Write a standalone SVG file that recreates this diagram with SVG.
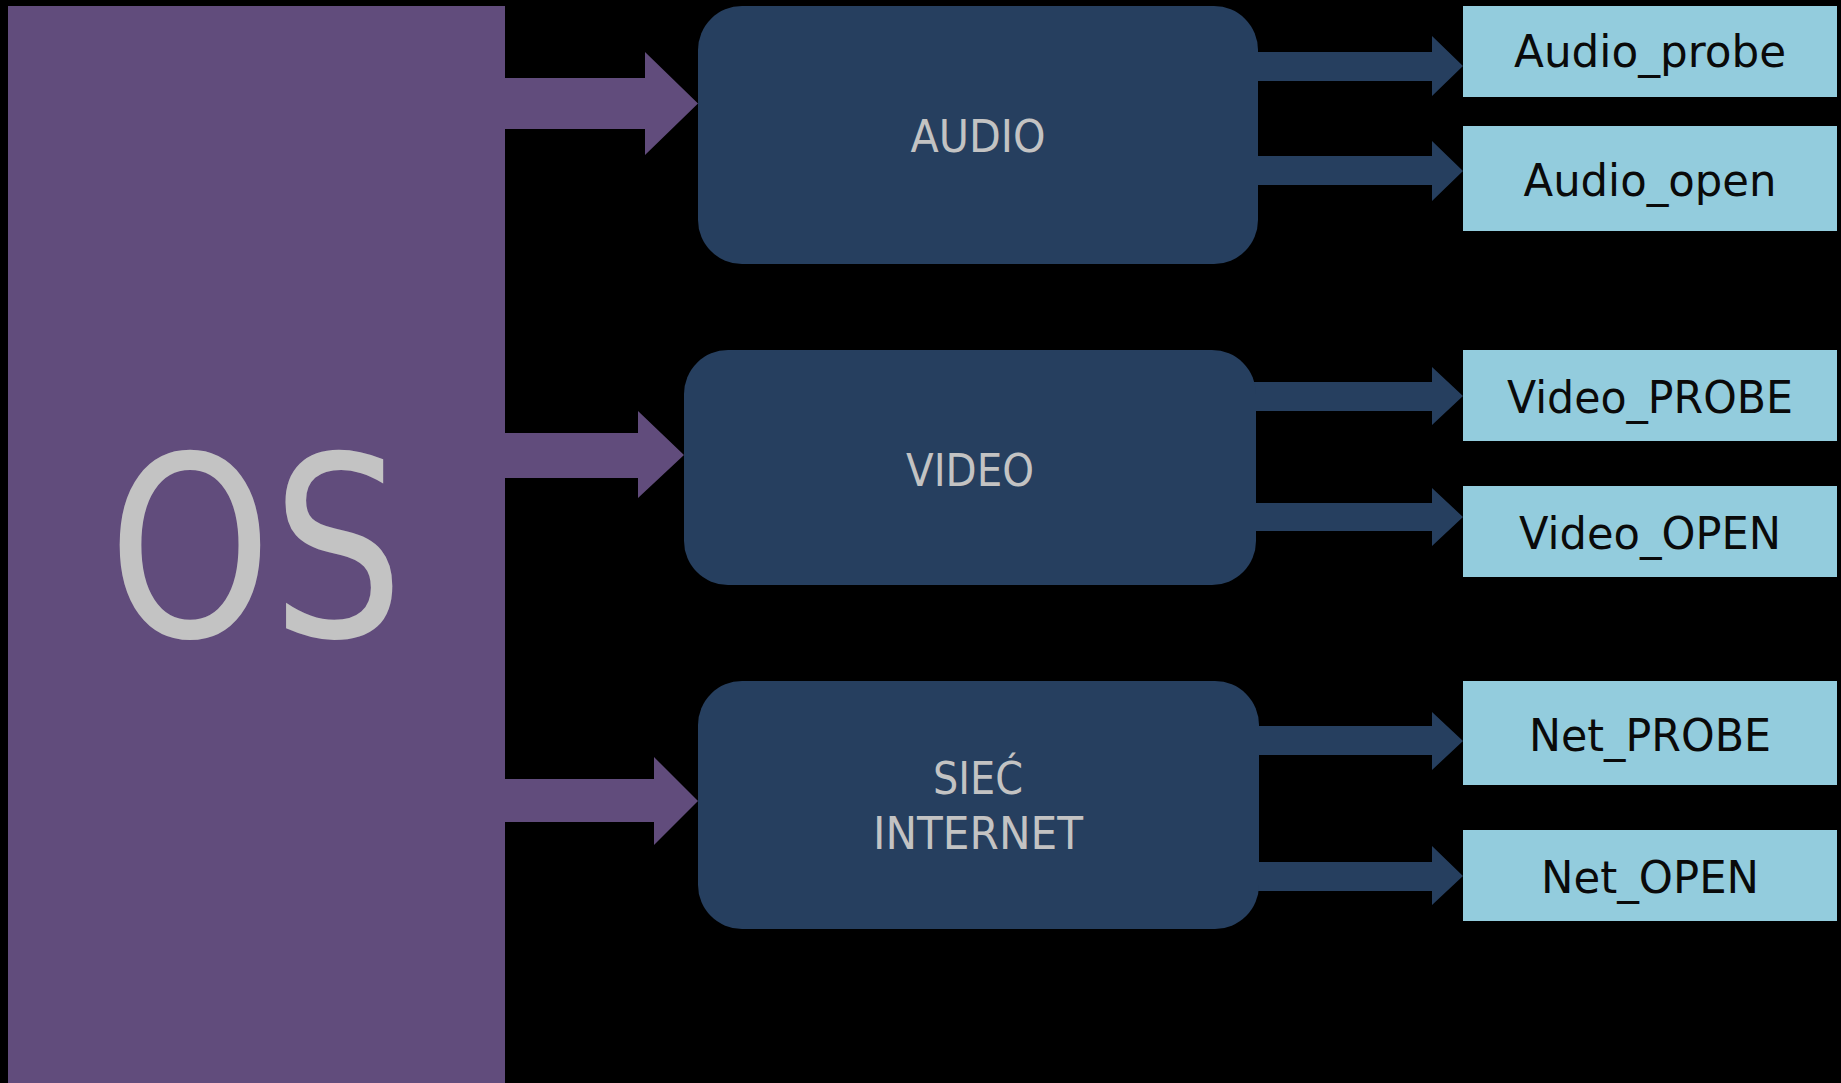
<svg xmlns="http://www.w3.org/2000/svg" width="1841" height="1083" viewBox="0 0 1841 1083">
<style>
.bg{fill:#000}
.os{fill:#614C7C}
.cat{fill:#263F5F}
.leaf{fill:#93CCDD}
.pa{fill:#614C7C}
.na{fill:#263F5F}
.lbl{font-family:"DejaVu Sans","Liberation Sans",sans-serif;font-size:45px;text-anchor:middle}
.light{fill:#C3C3C3}
.dark{fill:#0A0A0A}
.big{font-family:"DejaVu Sans","Liberation Sans",sans-serif;font-size:252px;text-anchor:middle;fill:#C3C3C3}
</style>
<rect class="bg" x="0" y="0" width="1841" height="1083"/>
<g id="connectors">
<polygon class="pa" points="500,78 645,78 645,52 698,103.5 645,155 645,129 500,129"/>
<polygon class="pa" points="500,433 638,433 638,411 684,455 638,498 638,478 500,478"/>
<polygon class="pa" points="500,779 654,779 654,757 698,801 654,845 654,822 500,822"/>
<polygon class="na" points="1250,52 1432,52 1432,36 1463,66 1432,96 1432,81 1250,81"/>
<polygon class="na" points="1250,156 1432,156 1432,141 1463,171 1432,201 1432,185 1250,185"/>
<polygon class="na" points="1250,382 1432,382 1432,367 1463,396 1432,425 1432,411 1250,411"/>
<polygon class="na" points="1250,503 1432,503 1432,488 1463,517 1432,546 1432,531 1250,531"/>
<polygon class="na" points="1250,726 1432,726 1432,712 1463,741 1432,770 1432,755 1250,755"/>
<polygon class="na" points="1250,862 1432,862 1432,846 1463,876 1432,905 1432,891 1250,891"/>
</g>
<g id="os">
<rect class="os" x="8" y="6" width="497" height="1077"/>
<text class="big" x="256" y="636" textLength="296" lengthAdjust="spacingAndGlyphs">OS</text>
</g>
<g id="audio">
<rect class="cat" x="698" y="6" width="560" height="258" rx="44" ry="44"/>
<text class="lbl light" x="978" y="151.5" textLength="135" lengthAdjust="spacingAndGlyphs">AUDIO</text>
</g>
<g id="video">
<rect class="cat" x="684" y="350" width="572" height="235" rx="44" ry="44"/>
<text class="lbl light" x="970" y="485.5" textLength="128" lengthAdjust="spacingAndGlyphs">VIDEO</text>
</g>
<g id="siec">
<rect class="cat" x="698" y="681" width="561" height="248" rx="44" ry="44"/>
<text class="lbl light" x="978" y="793.5" textLength="90" lengthAdjust="spacingAndGlyphs">SIEĆ</text>
<text class="lbl light" x="978" y="849" textLength="210" lengthAdjust="spacingAndGlyphs">INTERNET</text>
</g>
<g id="audio_probe">
<rect class="leaf" x="1463" y="6" width="374" height="91"/>
<text class="lbl dark" x="1650" y="67" textLength="272" lengthAdjust="spacingAndGlyphs">Audio_probe</text>
</g>
<g id="audio_open">
<rect class="leaf" x="1463" y="126" width="374" height="105"/>
<text class="lbl dark" x="1650" y="196" textLength="253" lengthAdjust="spacingAndGlyphs">Audio_open</text>
</g>
<g id="video_probe">
<rect class="leaf" x="1463" y="350" width="374" height="91"/>
<text class="lbl dark" x="1650" y="413" textLength="286" lengthAdjust="spacingAndGlyphs">Video_PROBE</text>
</g>
<g id="video_open">
<rect class="leaf" x="1463" y="486" width="374" height="91"/>
<text class="lbl dark" x="1650" y="549" textLength="262" lengthAdjust="spacingAndGlyphs">Video_OPEN</text>
</g>
<g id="net_probe">
<rect class="leaf" x="1463" y="681" width="374" height="104"/>
<text class="lbl dark" x="1650" y="750.5" textLength="242" lengthAdjust="spacingAndGlyphs">Net_PROBE</text>
</g>
<g id="net_open">
<rect class="leaf" x="1463" y="830" width="374" height="91"/>
<text class="lbl dark" x="1650" y="893" textLength="218" lengthAdjust="spacingAndGlyphs">Net_OPEN</text>
</g>
</svg>
